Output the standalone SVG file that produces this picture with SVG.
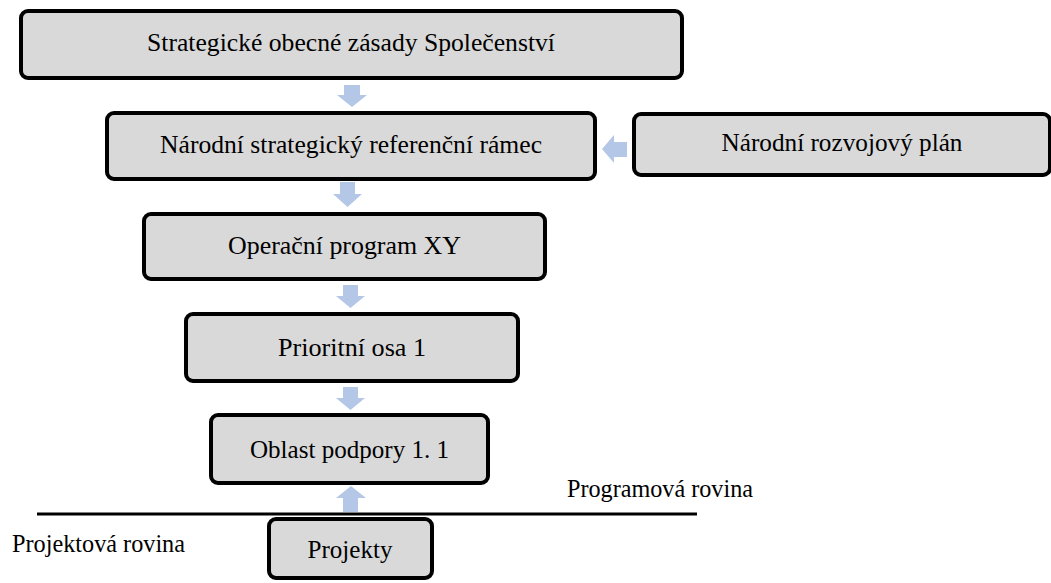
<svg xmlns="http://www.w3.org/2000/svg" width="1051" height="583" viewBox="0 0 1051 583">
<defs>
<style>
.box{fill:#d9d9d9;stroke:#000;stroke-width:4}
.m{text-anchor:middle}
.arr{fill:#b4c7e7}
</style>
</defs>
<rect width="1051" height="583" fill="#fff"/>
<g id="connectors">
<polygon class="arr" points="344,85 360,85 360,95 367,95 352,107 337,95 344,95"/>
<polygon class="arr" points="340,182 355,182 355,194 362,194 347.5,207 333,194 340,194"/>
<polygon class="arr" points="343,285 358,285 358,296 365,296 350.5,308 336,296 343,296"/>
<polygon class="arr" points="343,387 358,387 358,398 365,398 350.5,410 336,398 343,398"/>
<polygon class="arr" points="343,512 358,512 358,498 366,498 351,486 336,498 343,498"/>
<polygon class="arr" points="627,142 627,157 614,157 614,163 602,149 614,135 614,142"/>
<line x1="37" y1="514" x2="697" y2="514" stroke="#000" stroke-width="3"/>
</g>
<g font-family="'Liberation Serif', serif" font-size="25" fill="#000">
<g id="n1"><rect class="box" x="21" y="11" width="661" height="67" rx="7"/><text class="m" x="351" y="51" textLength="408" lengthAdjust="spacingAndGlyphs">Strategické obecné zásady Společenství</text></g>
<g id="n2"><rect class="box" x="107" y="113" width="488" height="66" rx="7"/><text class="m" x="351" y="153" textLength="382" lengthAdjust="spacingAndGlyphs">Národní strategický referenční rámec</text></g>
<g id="n3"><rect class="box" x="634" y="114" width="416" height="61" rx="7"/><text class="m" x="842" y="151" textLength="241" lengthAdjust="spacingAndGlyphs">Národní rozvojový plán</text></g>
<g id="n4"><rect class="box" x="144" y="214" width="401" height="65" rx="7"/><text class="m" x="344.5" y="254" textLength="233" lengthAdjust="spacingAndGlyphs">Operační program XY</text></g>
<g id="n5"><rect class="box" x="186" y="314" width="332" height="67" rx="7"/><text class="m" x="352" y="356" textLength="148" lengthAdjust="spacingAndGlyphs">Prioritní osa 1</text></g>
<g id="n6"><rect class="box" x="211" y="415" width="277" height="68" rx="7"/><text class="m" x="349.5" y="458" textLength="199" lengthAdjust="spacingAndGlyphs">Oblast podpory 1. 1</text></g>
<g id="n7"><rect class="box" x="269" y="519" width="163" height="59" rx="7"/><text class="m" x="350" y="558" textLength="85" lengthAdjust="spacingAndGlyphs">Projekty</text></g>
<g id="labels">
<text x="567" y="497" textLength="186" lengthAdjust="spacingAndGlyphs">Programová rovina</text>
<text x="12" y="552" textLength="173" lengthAdjust="spacingAndGlyphs">Projektová rovina</text>
</g>
</g>
</svg>
